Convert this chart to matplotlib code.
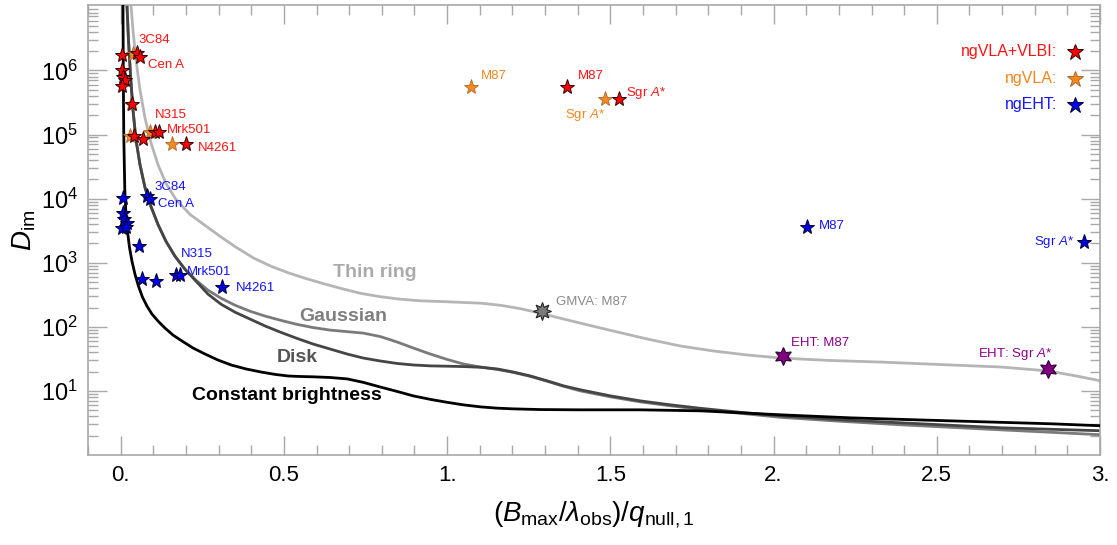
import numpy as np
import matplotlib
matplotlib.use('Agg')
import matplotlib.pyplot as plt
from matplotlib import font_manager as fm
from matplotlib.ticker import LogLocator, NullFormatter, MultipleLocator

names = {f.name for f in fm.fontManager.ttflist}
NARROW = 'Liberation Sans Narrow' if 'Liberation Sans Narrow' in names else 'Liberation Sans'
SANS = 'Liberation Sans'
plt.rcParams['font.family'] = [SANS, 'DejaVu Sans']
plt.rcParams['mathtext.fontset'] = 'custom'
plt.rcParams['mathtext.rm'] = NARROW
plt.rcParams['mathtext.it'] = NARROW + ':italic'
plt.rcParams['mathtext.bf'] = NARROW + ':bold'

# ---------------- data ----------------
const_x = [0.0071, 0.0080, 0.0095, 0.0126, 0.0163, 0.0209, 0.0270, 0.0347, 0.0439, 0.0546, 0.0669,
           0.0807, 0.0960, 0.1144, 0.1359, 0.1604, 0.188, 0.2218, 0.2586, 0.2985, 0.3383, 0.3844,
           0.4304, 0.4733, 0.5132, 0.55, 0.5899, 0.642, 0.6942, 0.7433, 0.7954, 0.8475, 0.8966,
           0.9488, 1.0009, 1.05, 1.1021, 1.1543, 1.2034, 1.2862, 1.4089, 1.5929, 1.777, 1.900,
           2.022, 2.237, 2.544, 2.851, 3.004]
const_y = [1.04e7, 1.02e6, 9.9e4, 1.39e4, 5.66e3, 3.08e3, 1.74e3, 1.05e3, 661, 430, 290,
           210, 158, 123, 95.5, 74.3, 60, 46.7, 37.6, 30.3, 25.4, 22.0,
           19.7, 18.1, 17.1, 16.8, 16.6, 16.2, 15.4, 13.6, 11.5, 9.8, 8.36,
           7.38, 6.63, 6.06, 5.64, 5.38, 5.25, 5.12, 5.07, 5.07, 4.89, 4.55,
           4.24, 3.80, 3.41, 3.07, 2.86]

disk_x = [0.0193, 0.0239, 0.0301, 0.0377, 0.0469, 0.0592, 0.0745, 0.0929, 0.1144, 0.1390, 0.1666,
          0.1972, 0.2310, 0.2678, 0.3077, 0.3506, 0.3966, 0.4426, 0.4887, 0.5377, 0.5899, 0.642,
          0.6942, 0.7433, 0.7954, 0.8475, 0.8966, 0.9488, 1.0009, 1.05, 1.1021, 1.1543, 1.2034,
          1.2555, 1.3077, 1.3567, 1.4089, 1.5009, 1.5929, 1.685, 1.777, 1.8997, 2.022, 2.2064,
          2.3905, 2.6972, 3.004]
disk_y = [1.04e7, 2.98e6, 8.51e5, 2.43e5, 8.3e4, 3.39e4, 1.49e4, 7.53e3, 3.95e3, 2.15e3, 1.26e3,
          789, 514, 323, 225, 169, 132, 103, 82.8, 66.7, 53.8, 45.0,
          37.6, 32.6, 29.3, 26.8, 25.4, 24.6, 24.3, 24.0, 23.4, 22.0, 19.7,
          17.1, 14.3, 12.0, 10.4, 8.36, 6.98, 6.06, 5.35, 4.63, 4.08, 3.54,
          3.18, 2.66, 2.39]

gauss_x = [0.0193, 0.0239, 0.0301, 0.0377, 0.0469, 0.0592, 0.0745, 0.0929, 0.1144, 0.1390, 0.1666,
           0.1972, 0.2310, 0.2678, 0.3077, 0.3506, 0.3966, 0.4426, 0.4887, 0.5377, 0.5899, 0.642,
           0.6942, 0.7433, 0.7954, 0.8475, 0.8966, 0.9488, 1.0009, 1.05, 1.1021, 1.1543, 1.2034,
           1.2555, 1.3077, 1.3567, 1.4089, 1.5009, 1.5929, 1.685, 1.777, 1.8997, 2.022, 2.2064,
           2.3905, 2.6972, 3.004]
gauss_y = [1.04e7, 2.98e6, 8.51e5, 2.43e5, 8.3e4, 3.39e4, 1.49e4, 7.53e3, 3.95e3, 2.15e3, 1.26e3,
           789, 533, 372, 279, 217, 175, 147, 127, 110, 97.3, 88.9,
           84.1, 79.8, 70.5, 57.8, 46.7, 37.6, 30.9, 26.3, 23.6, 21.6, 19.4,
           16.8, 14.1, 11.8, 10.0, 8.07, 6.74, 5.85, 5.15, 4.47, 3.87, 3.36,
           2.96, 2.47, 2.07]

ring_x = [0.0316, 0.0377, 0.0469, 0.0592, 0.0745, 0.0929, 0.1144, 0.1390, 0.1696, 0.2126, 0.2586,
          0.3046, 0.3537, 0.4089, 0.4610, 0.5132, 0.5653, 0.6175, 0.6727, 0.7340, 0.7954, 0.8567,
          0.9181, 1.0009, 1.1021, 1.1635, 1.2248, 1.2862, 1.3475, 1.4089, 1.5101, 1.6144, 1.7156,
          1.8168, 1.9212, 2.0224, 2.1758, 2.3291, 2.5439, 2.6972, 2.8414, 2.9273, 3.004]
ring_y = [1.04e7, 4.27e6, 1.46e6, 4.98e5, 1.82e5, 7.45e4, 3.39e4, 1.72e4, 9.68e3, 5.66e3, 3.82e3,
          2.58e3, 1.74e3, 1.17e3, 880, 697, 572, 478, 400, 334, 295, 270,
          255, 246, 234, 217, 192, 163, 136, 114, 85.7, 64.4, 50.1,
          41.9, 36.3, 32.6, 29.8, 28.2, 25.4, 23.6, 20.5, 17.1, 14.3]

# ngVLA (orange)
vla_x = [0.039, 0.032, 0.029, 0.090, 0.157, 1.074, 1.483]
vla_y = [1.79e6, 2.98e5, 9.6e4, 1.08e5, 7.1e4, 5.6e5, 3.6e5]
# ngVLA+VLBI (red)
vlbi_x = [0.003, 0.049, 0.059, 0.003, 0.008, 0.013, 0.003, 0.036, 0.041, 0.069, 0.106, 0.117,
          0.199, 1.368, 1.526]
vlbi_y = [1.74e6, 1.85e6, 1.64e6, 1.02e6, 8.0e5, 7.1e5, 5.7e5, 2.98e5, 9.6e4, 8.5e4, 1.08e5, 1.1e5,
          7.1e4, 5.6e5, 3.6e5]
# ngEHT (blue)
ngeht_x = [0.006, 0.081, 0.091, 0.006, 0.011, 0.018, 0.004, 0.017, 0.057, 0.064, 0.108, 0.169,
           0.183, 0.311, 2.102, 2.951]
ngeht_y = [1.03e4, 1.09e4, 9.7e3, 6.0e3, 4.9e3, 4.2e3, 3.45e3, 3.6e3, 1.8e3, 566, 519, 649,
           649, 422, 3.56e3, 2.13e3]
# existing arrays
gmva_x, gmva_y = [1.291], [177]
eht_x, eht_y = [2.028, 2.840], [35.4, 22]

SGR = r'Sgr $\mathit{A}$*'
# point labels: (text, x, y, color-key, ha)
point_labels = [
    ('3C84', 0.053, 2.98e6, 'red', 'left'),
    ('Cen A', 0.084, 1.22e6, 'red', 'left'),
    ('N315', 0.104, 2.03e5, 'red', 'left'),
    ('Mrk501', 0.143, 1.16e5, 'red', 'left'),
    ('N4261', 0.235, 6.2e4, 'red', 'left'),
    ('3C84', 0.104, 1.5e4, 'blue', 'left'),
    ('Cen A', 0.114, 8.4e3, 'blue', 'left'),
    ('N315', 0.184, 1.39e3, 'blue', 'left'),
    ('Mrk501', 0.204, 728, 'blue', 'left'),
    ('N4261', 0.353, 410, 'blue', 'left'),
    ('M87', 1.102, 8.2e5, 'orange', 'left'),
    ('M87', 1.402, 8.2e5, 'red', 'left'),
    (SGR, 1.549, 4.5e5, 'red', 'left'),
    (SGR, 1.360, 2.03e5, 'orange', 'left'),
    ('M87', 2.139, 3.68e3, 'blue', 'left'),
    (SGR, 2.921, 2.08e3, 'blue', 'right'),
    ('GMVA: M87', 1.335, 245, 'gray', 'left'),
    ('EHT: M87', 2.053, 55.7, 'purple', 'left'),
    ('EHT: ' + SGR, 2.853, 37.6, 'purple', 'right'),
]

curve_labels = [
    ('Thin ring', 0.780, 710, '#ababab'),
    ('Gaussian', 0.682, 147, '#7f7f7f'),
    ('Disk', 0.540, 33.8, '#555555'),
    ('Constant brightness', 0.509, 8.36, '#000000'),
]

legend_entries = [('ngVLA+VLBI:', 'red'), ('ngVLA:', 'orange'), ('ngEHT:', 'blue')]

x_ticks = [0, 0.5, 1.0, 1.5, 2.0, 2.5, 3.0]
x_ticklabels = ['0.', '0.5', '1.', '1.5', '2.', '2.5', '3.']
y_exps = [1, 2, 3, 4, 5, 6]

# ---------------- styles ----------------
TXT = {'red': '#ff1414', 'orange': '#f5851f', 'blue': '#1414ff', 'gray': '#8a8a8a', 'purple': '#8b008b'}
FILL = {'red': '#ff0000', 'orange': '#f5881f', 'blue': '#0000e6'}
EDGE = {'red': '#300000', 'orange': '#a86a30', 'blue': '#000030'}
GRAY = '#a8a8a8'

fig = plt.figure(figsize=(11.17, 5.45), dpi=100)
ax = fig.add_axes([0.0788, 0.1651, 0.906, 0.8257])
ax.set_yscale('log')
ax.set_xlim(-0.1, 3.0)
ax.set_ylim(1.0, 1.05e7)

ax.plot(ring_x, ring_y, color='#b5b5b5', lw=2.0, zorder=2)
ax.plot(gauss_x, gauss_y, color='#7a7a7a', lw=2.0, zorder=2)
ax.plot(disk_x, disk_y, color='#454545', lw=2.0, zorder=2)
ax.plot(const_x, const_y, color='#000000', lw=2.0, zorder=3)

ms = 11
ax.plot(vla_x, vla_y, ls='none', marker='*', ms=ms, mfc=FILL['orange'], mec=EDGE['orange'], mew=0.6, zorder=4)
ax.plot(vlbi_x, vlbi_y, ls='none', marker='*', ms=ms, mfc=FILL['red'], mec=EDGE['red'], mew=0.7, zorder=5)
ax.plot(ngeht_x, ngeht_y, ls='none', marker='*', ms=ms, mfc=FILL['blue'], mec=EDGE['blue'], mew=0.7, zorder=5)
ax.plot(gmva_x, gmva_y, ls='none', marker=(8, 1, 0), ms=13, mfc='#7a7a7a', mec='#222222', mew=0.8, zorder=5)
ax.plot(eht_x, eht_y, ls='none', marker=(6, 1, 0), ms=13, mfc='#800080', mec='#300030', mew=0.8, zorder=5)

for s, x, y, c, ha in point_labels:
    ax.text(x, y, s, color=TXT[c], fontsize=9.5, ha=ha, va='center', zorder=6)

for s, x, y, c in curve_labels:
    ax.text(x, y, s, color=c, fontsize=14, fontweight='bold', ha='center', va='center', zorder=6)

leg_y = [0.896, 0.836, 0.778]
for (s, c), yy in zip(legend_entries, leg_y):
    ax.text(0.9575, yy, s, color=TXT[c], fontsize=11.5, ha='right', va='center', transform=ax.transAxes)
    ax.plot([0.975], [yy], marker='*', ms=12, mfc=FILL[c], mec=EDGE[c], mew=0.7,
            transform=ax.transAxes, clip_on=False)

# ticks
ax.set_xticks(x_ticks)
ax.set_xticklabels(x_ticklabels, fontfamily=NARROW, fontsize=16)
ax.xaxis.set_minor_locator(MultipleLocator(0.1))
ax.set_yticks([10.0 ** e for e in y_exps])
ax.set_yticklabels([r'$\mathregular{10^{%d}}$' % e for e in y_exps], fontfamily=NARROW, fontsize=17)
ax.yaxis.set_minor_locator(LogLocator(base=10, subs=np.arange(2, 10), numticks=20))
ax.yaxis.set_minor_formatter(NullFormatter())
ax.tick_params(which='both', direction='in', top=True, right=True, color=GRAY, width=1.0)
ax.tick_params(which='major', length=14, pad=7)
ax.tick_params(which='minor', length=7)
for sp in ax.spines.values():
    sp.set_color(GRAY)
    sp.set_linewidth(1.2)

ax.set_xlabel(r'$(\mathit{B}_{\mathrm{max}}/\mathit{\lambda}_{\mathrm{obs}})/\mathit{q}_{\mathrm{null,1}}$',
              fontsize=20, labelpad=10)
ax.set_ylabel(r'$\mathit{D}_{\mathrm{im}}$', fontsize=20, labelpad=2)

fig.savefig('out.png', dpi=100)
